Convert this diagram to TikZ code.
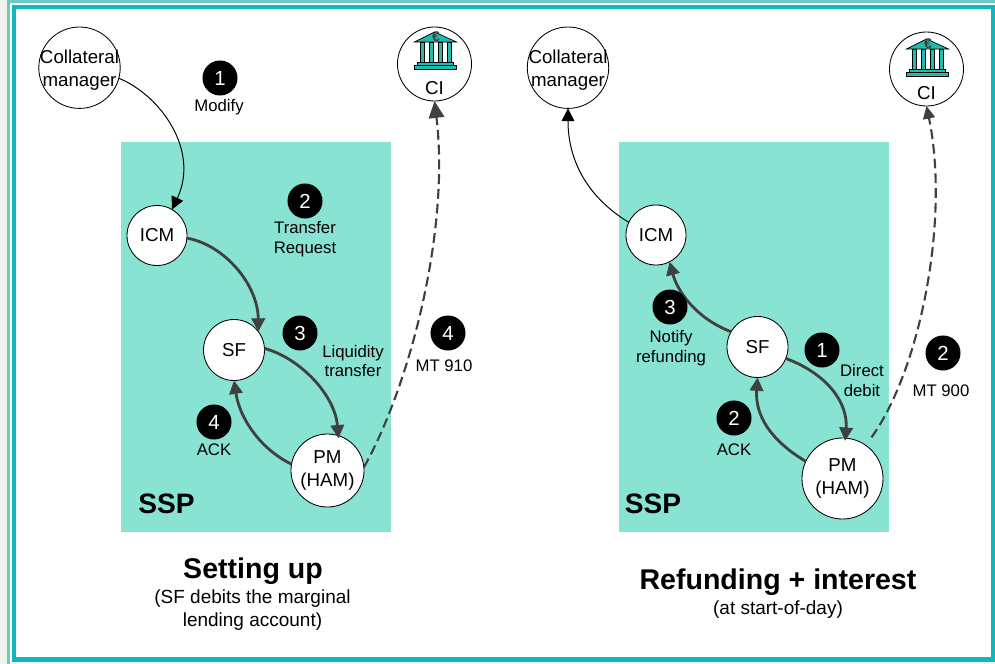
\documentclass[tikz,border=0pt]{standalone}
\usepackage{fontspec}
\setmainfont{Liberation Sans}
\usepackage{xcolor}
\usetikzlibrary{arrows.meta}
\definecolor{frameteal}{HTML}{12B7BC}
\definecolor{framelight}{HTML}{6CCAC4}
\definecolor{pagegray}{HTML}{F2F3EE}
\definecolor{sspgreen}{HTML}{88E3D2}
\definecolor{flowgray}{HTML}{404040}
\definecolor{bankteal}{HTML}{1DBDB0}
\tikzset{
  roundnode/.style={draw=black, fill=white, circle, line width=0.6pt, inner sep=0pt, outer sep=0pt, align=center, text=black, font=\fontsize{13.3}{16}\selectfont},
  cleartext/.style={inner sep=0pt, align=center, text=black, font=\fontsize{13.3}{16.3}\selectfont},
  stepbadge/.style={fill=black, circle, minimum size=0.875cm, inner sep=0pt, text=white, font=\fontsize{14.5}{16}\selectfont},
  steptext/.style={inner sep=0pt, align=center, text=black, font=\fontsize{11.9}{14}\selectfont},
  subtext/.style={inner sep=0pt, align=center, text=black, font=\fontsize{13.5}{16.3}\selectfont},
  bigtitle/.style={inner sep=0pt, align=center, text=black, font=\fontsize{20.3}{24}\selectfont\bfseries},
  ssptext/.style={inner sep=0pt, text=black, font=\fontsize{20}{24}\selectfont\bfseries},
  thinflow/.style={black, line width=0.7pt, -{Triangle[length=9pt,width=9pt]}},
  thickflow/.style={flowgray, line width=2pt, -{Triangle[length=9.5pt,width=9.5pt]}},
  dashflow/.style={flowgray, line width=1.5pt, dash pattern=on 7pt off 3.5pt},
  bank/.pic={
    \draw[fill=bankteal, draw=black, line width=0.5pt] (-20,-22) -- (0,-32) -- (22,-22) -- cycle;
    \draw[fill=bankteal, draw=black, line width=0.5pt] (-14.5,-21.5) rectangle (-10.5,-1.5);
    \draw[fill=bankteal, draw=black, line width=0.5pt] (-5.5,-21.5) rectangle (-1,-1.5);
    \draw[fill=bankteal, draw=black, line width=0.5pt] (3.5,-21.5) rectangle (8,-1.5);
    \draw[fill=bankteal, draw=black, line width=0.5pt] (12.5,-21.5) rectangle (16.5,-1.5);
    \draw[fill=bankteal, draw=black, line width=0.5pt] (-17,-1.5) rectangle (19,1.5);
    \draw[fill=bankteal, draw=black, line width=0.5pt] (-20.5,1.5) rectangle (22,5);
    \node[inner sep=0pt, text=flowgray, font=\fontsize{10}{12}\selectfont\bfseries] at (1.5,-27) {€};
  }
}
\begin{document}
\begin{tikzpicture}[x=0.025cm, y=-0.025cm]
  \useasboundingbox (0,0) rectangle (995,664);
  % page and frame
  \fill[pagegray] (0,0) rectangle (995,664);
  \fill[white] (8,2) rectangle (995,661);
  \draw[framelight, line width=2pt] (8.5,664) -- (8.5,1.5) -- (995,1.5);
  \draw[frameteal, line width=3pt] (14,7) rectangle (993,659.5);
  % system boxes
  \fill[sspgreen] (121,142) rectangle (391,532);
  \fill[sspgreen] (619,142) rectangle (889,532);
  \node[ssptext] (sspA) at (166.5,504) {SSP};
  \node[ssptext] (sspB) at (653,504) {SSP};

  % setting up
  \node[roundnode, minimum size=2.035cm] (collA) at (79.5,67.7) {};
  \node[cleartext] (collAtext) at (79.5,70.5) {Collateral\\manager};
  \node[roundnode, minimum size=1.85cm] (ciA) at (434.5,64) {};
  \pic at (434.5,64) {bank};
  \node[cleartext] (ciAtext) at (434.5,88) {CI};
  \node[roundnode, minimum size=1.5cm] (icmA) at (157,235.5) {ICM};
  \node[roundnode, minimum size=1.525cm] (sfA) at (234,350) {SF};
  \node[roundnode, minimum size=1.825cm] (pmA) at (327.5,470.5) {PM\\(HAM)};
  \draw[thinflow] (collA.-15) .. controls (160,95) and (200,150) .. (icmA.60);
  \draw[thickflow] (icmA.-5) .. controls (225,245) and (258,285) .. (sfA.37);
  \draw[thickflow, shorten >=-2pt] (sfA.3) .. controls (300,358) and (335,395) .. (pmA.73);
  \draw[thickflow] (pmA.170) .. controls (262,450) and (240,420) .. (sfA.-90);
  \draw[dashflow, -{Triangle[length=12pt,width=11pt]}] (pmA.5) .. controls (410,385) and (450,230) .. (ciA.-90);
  \node[stepbadge] (oneA) at (220,78) {1};
  \node[steptext] (oneAtext) at (219,107.5) {Modify};
  \node[stepbadge] (twoA) at (305,201) {2};
  \node[steptext] (twoAtext) at (305,239.5) {Transfer\\Request};
  \node[stepbadge] (threeA) at (300,333) {3};
  \node[steptext] (threeAtext) at (353,361) {Liquidity\\transfer};
  \node[stepbadge] (fourA) at (214,422) {4};
  \node[steptext] (fourAtext) at (214,450) {ACK};
  \node[stepbadge] (fiveA) at (448,333) {4};
  \node[steptext] (fiveAtext) at (444,366) {MT 910};
  \node[bigtitle] (titleA) at (253,571) {Setting up};
  \node[subtext] (subA) at (252.5,610) {(SF debits the marginal\\lending account)};

  % refunding
  \node[roundnode, minimum size=2.035cm] (collB) at (568,67.7) {};
  \node[cleartext] (collBtext) at (568,70.5) {Collateral\\manager};
  \node[roundnode, minimum size=1.85cm] (ciB) at (926.5,69) {};
  \pic at (926.5,71) {bank};
  \node[cleartext] (ciBtext) at (926.5,93) {CI};
  \node[roundnode, minimum size=1.5cm] (icmB) at (656,235) {ICM};
  \node[roundnode, minimum size=1.525cm] (sfB) at (757.5,347) {SF};
  \node[roundnode, minimum size=2.025cm] (pmB) at (842.5,478.5) {PM\\(HAM)};
  \draw[thinflow] (icmB.155) .. controls (587,197) and (568,160) .. (collB.-90);
  \draw[thickflow] (sfB.150) .. controls (695,318) and (677,290) .. (icmB.-63);
  \draw[thickflow, shorten >=-2pt] (sfB.-22) .. controls (830,375) and (848,405) .. (pmB.86);
  \draw[thickflow] (pmB.155) .. controls (770,440) and (755,415) .. (sfB.-90);
  \draw[dashflow, shorten <=7pt, -{Triangle[length=9pt,width=8.5pt]}] (pmB.55) .. controls (920,370) and (950,220) .. (ciB.-90);
  \node[stepbadge] (oneB) at (822,350) {1};
  \node[steptext] (oneBtext) at (862,380.5) {Direct\\debit};
  \node[stepbadge] (twoB) at (734,418) {2};
  \node[steptext] (twoBtext) at (734,450) {ACK};
  \node[stepbadge] (threeB) at (670,307) {3};
  \node[steptext] (threeBtext) at (671,348) {Notify\\refunding};
  \node[stepbadge] (fourB) at (943,353) {2};
  \node[steptext] (fourBtext) at (941,391) {MT 900};
  \node[bigtitle] (titleB) at (778,582) {Refunding + interest};
  \node[subtext] (subB) at (778,610) {(at start-of-day)};
\end{tikzpicture}
\end{document}
